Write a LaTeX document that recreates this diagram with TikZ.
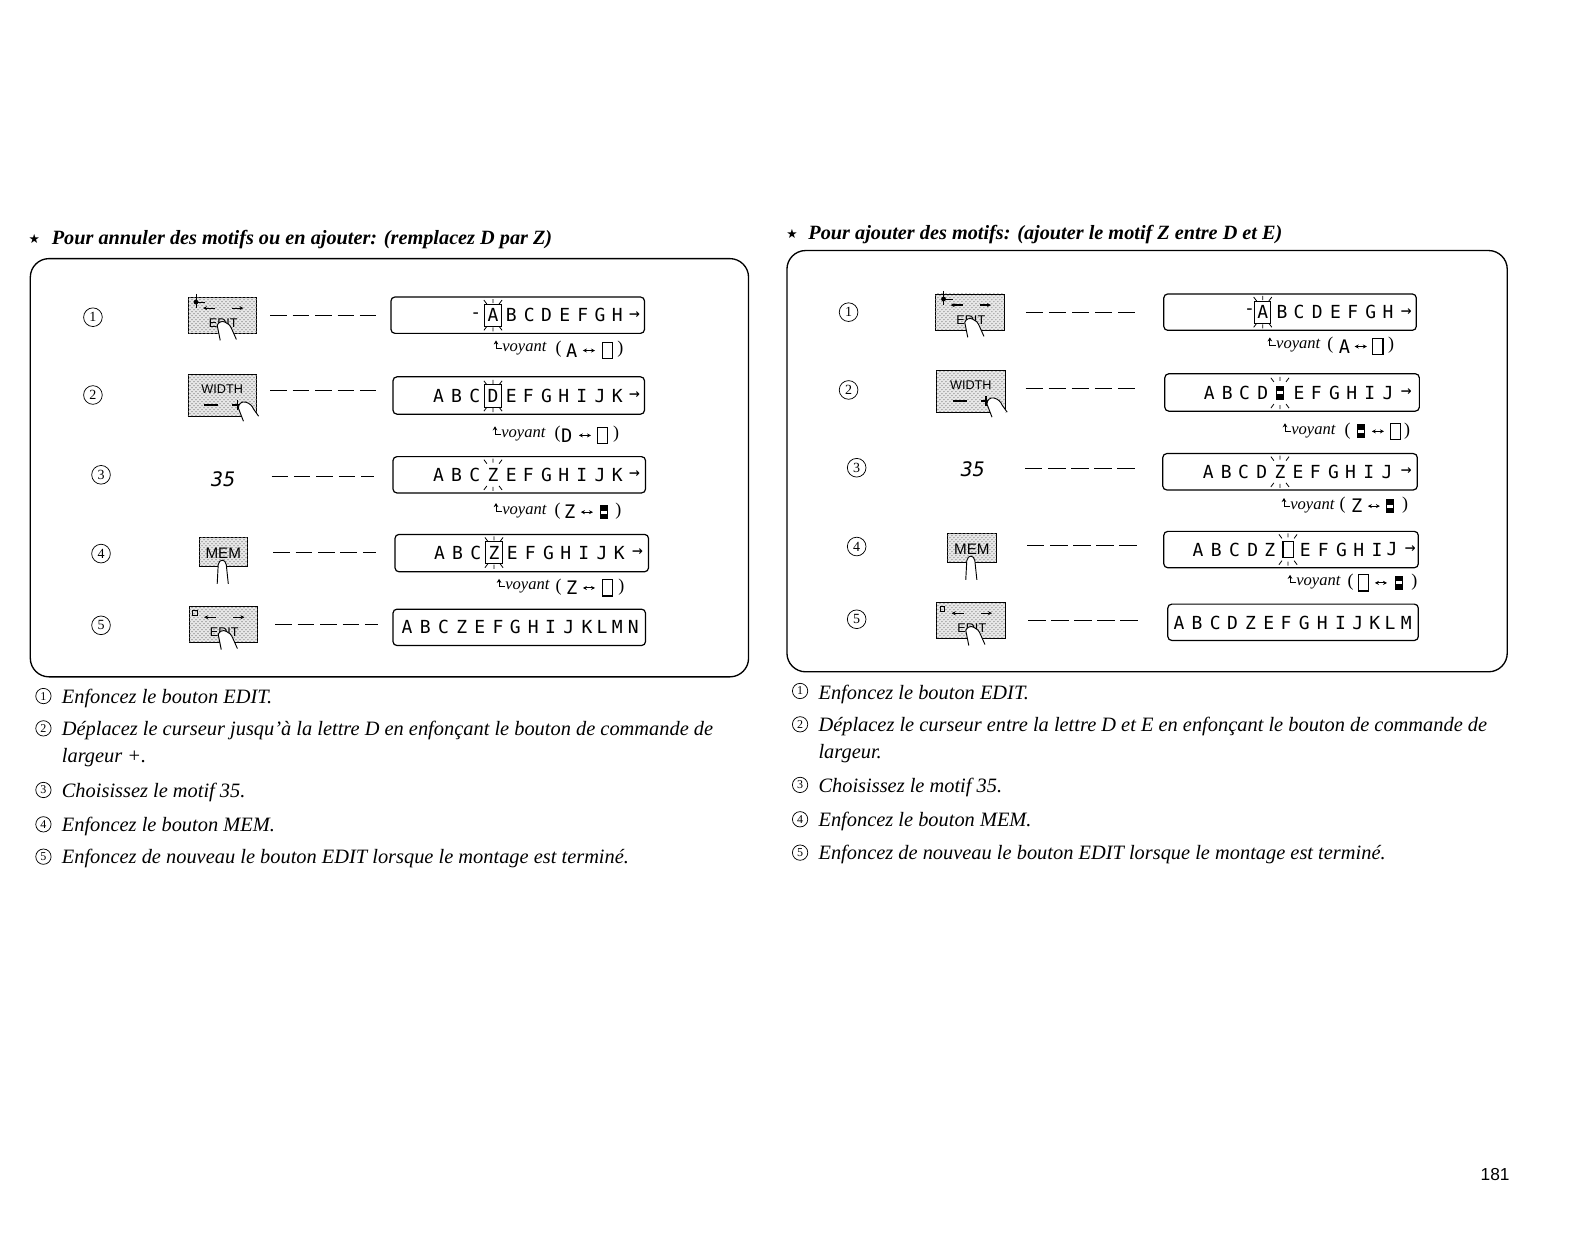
\documentclass[tikz,border=0pt]{standalone}
\usepackage{fontspec}
\setmainfont{Liberation Serif}
\newfontfamily\djs{DejaVu Sans}
\newfontfamily\djm{DejaVu Sans Mono}
\newfontfamily\lsans{Liberation Sans}
\usetikzlibrary{fit,arrows.meta,patterns}
\newcount\nn
\newcommand\nid{\global\advance\nn by 1 }
\tikzset{
 panel/.style={draw,line width=1pt,rounded corners=14pt,inner sep=0pt},
 lcd/.style={draw,line width=.9pt,rounded corners=3pt,inner sep=0pt},
 btn/.style={draw,line width=.6pt,fill=gray!18,postaction={pattern=crosshatch dots,pattern color=black!48},inner sep=0pt},
 conn/.style={line width=.7pt,dash pattern=on 12.4pt off 4.4pt,shorten <=10pt,shorten >=11pt},
 connr/.style={line width=.7pt,dash pattern=on 13pt off 4.3pt},
 lcdtxt/.style={font=\djm\fontsize{13.5pt}{14pt}\selectfont,inner sep=0pt},
 num/.style={draw,circle,line width=.55pt,inner sep=0pt,minimum size=14pt,font=\fontsize{10.5pt}{11pt}\selectfont},
 numb/.style={draw,circle,line width=.55pt,inner sep=0pt,minimum size=11.5pt,font=\fontsize{9pt}{10pt}\selectfont},
 body/.style={font=\itshape\fontsize{15.3pt}{16pt}\selectfont,anchor=base west,inner sep=0pt},
 ttl/.style={font=\bfseries\itshape\fontsize{15.2pt}{16pt}\selectfont,anchor=base west,inner sep=0pt},
 vy/.style={font=\itshape\fontsize{12.4pt}{13pt}\selectfont,anchor=base west,inner sep=0pt},
 cp/.style={font=\fontsize{13.5pt}{14pt}\selectfont,inner sep=0pt},
 cg/.style={font=\djm\fontsize{14pt}{15pt}\selectfont,inner sep=0pt},
 btxt/.style={font=\lsans\fontsize{9.5pt}{10pt}\selectfont,inner sep=0pt,text=black},
 mtxt/.style={font=\lsans\fontsize{11.4pt}{12pt}\selectfont,inner sep=0pt,text=black},
 fing/.style={draw,fill=white,line width=.7pt},
 ray/.style={line width=.6pt},
 btnarrow/.style={line width=.9pt,-{Stealth[length=3pt,width=3pt]}}
}
\newcommand\lets[2]{\foreach \px/\c in {#2}{\nid\node[lcdtxt] (n\the\nn) at (\px,#1) {\c};}}
\newcommand\rays[2]{\draw[ray] (#1,#2-16)--(#1,#2-12) (#1,#2+12)--(#1,#2+16)
 (#1-9,#2-15)--(#1-6,#2-11) (#1+9,#2-15)--(#1+6,#2-11)
 (#1-9,#2+15)--(#1-6,#2+11) (#1+9,#2+15)--(#1+6,#2+11);}
\newcommand\boxc[2]{\draw[line width=.8pt] (#1-8,#2-11) rectangle (#1+8,#2+11);}
\newcommand\voy[2]{\draw[line width=.7pt,-{Stealth[length=3pt,width=3.5pt]}] (#1+8,#2-1)--(#1+2,#2-1)--(#1+2,#2-9);
 \nid\node[vy] (n\the\nn) at (#1+8,#2+2) {voyant};}
\newcommand\cgl[3]{\nid\node[cp] (n\the\nn) at (#1,#2) {#3};}
\newcommand\cch[3]{\nid\node[cg] (n\the\nn) at (#1,#2) {#3};}
\newcommand\bk[2]{\draw[line width=.8pt] (#1-5,#2-8) rectangle (#1+5,#2+8);}
\newcommand\fk[2]{\fill (#1-4,#2-7) rectangle (#1+4,#2+7); \fill[white] (#1-3,#2-1.5) rectangle (#1+3,#2+1.5);}
\newcommand\dbl[2]{\draw[line width=.7pt,{Stealth[length=3pt,width=3pt]}-{Stealth[length=3pt,width=3pt]}] (#1-6,#2)--(#1+6,#2);}
\newcommand\editb[3]{\node[btn,fit={(#2,#3) (#2+68,#3+36)}] (#1) {};
 \draw[btnarrow] (#2+27,#3+11)--(#2+15,#3+11);
 \draw[btnarrow] (#2+44,#3+11)--(#2+55,#3+11);
 \nid\node[btxt] (n\the\nn) at (#2+35,#3+26) {EDIT};
 \begin{scope}[shift={(#2,#3)}]
 \draw[fing] (32,43)--(29,28)..controls (30,25) and (34,23) ..(37,25)..controls (40,26) and (42,28)..(44,33)--(48,42);
 \end{scope}}
\newcommand\editdot[2]{\fill (#1+8,#2+5) circle (1.8pt);
 \draw[line width=.7pt] (#1+8,#2-3)--(#1+8,#2+11) (#1+8,#2+5)--(#1+17,#2+5);}
\newcommand\editsq[2]{\draw[line width=.7pt] (#1+4,#2+4) rectangle (#1+8,#2+9);}
\newcommand\widthb[3]{\node[btn,fit={(#2,#3) (#2+68,#3+41)}] (#1) {};
 \nid\node[btxt] (n\the\nn) at (#2+34,#3+14) {WIDTH};
 \draw[line width=.9pt] (#2+16,#3+30)--(#2+30,#3+30) (#2+44,#3+30)--(#2+54,#3+30) (#2+49,#3+25)--(#2+49,#3+35);
 \begin{scope}[shift={(#2,#3)}]
 \draw[fing] (55,46)--(50,33)..controls (50,29) and (53,26)..(57,27)..controls (61,28) and (64,31)..(65,34)--(70,41);
 \end{scope}}
\newcommand\memb[3]{\node[btn,fit={(#2,#3) (#2+48,#3+29)}] (#1) {};
 \nid\node[mtxt] (n\the\nn) at (#2+24,#3+16) {MEM};
 \begin{scope}[shift={(#2,#3)}]
 \draw[fing] (18,46)--(19,27)..controls (20,21) and (26,21)..(27,27)--(29,46);
 \end{scope}}
\begin{document}
\begin{tikzpicture}[x=0.7577pt,y=-0.7577pt]
\useasboundingbox (0,0) rectangle (1568,1231);
\fill[white] (0,0) rectangle (1568,1231);
% ---------- left
\nid\node[font=\djs\fontsize{9.5pt}{10pt}\selectfont,inner sep=0pt] (n\the\nn) at (34,237) {★};
\node[ttl] (tl) at (51,242) {Pour annuler des motifs ou en ajouter: (remplacez D par Z)};
\node[panel,fit={(30,256) (741,670)}] (pl) {};
\node[num] (a1) at (92,314) {1};
\node[num] (a2) at (92,391) {2};
\node[num] (a3) at (100,470) {3};
\node[num] (a4) at (100,548) {4};
\node[num] (a5) at (100,619) {5};
\editb{ab1}{186}{294}\editdot{186}{294}
\widthb{ab2}{186}{371}
\node[btxt,font=\djm\itshape\fontsize{15pt}{16pt}\selectfont,inner sep=0pt] (ab3) at (221,474) {35};
\memb{ab4}{197}{532}
\editb{ab5}{187}{600}\editsq{187}{600}
\node[lcd,fit={(387,294) (638,330)}] (al1) {};
\node[lcd,fit={(389,373) (638,410)}] (al2) {};
\node[lcd,fit={(389,452) (639,488)}] (al3) {};
\node[lcd,fit={(391,529) (642,566)}] (al4) {};
\node[lcd,fit={(389,603) (639,639)}] (al5) {};
\draw[conn] (ab1.east|-0,312) -- (al1.west|-0,312);
\draw[conn] (ab2.east|-0,387) -- (al2.west|-0,387);
\draw[conn,shorten <=27pt,shorten >=14pt] (ab3.east|-0,472) -- (al3.west|-0,472);
\draw[conn,shorten <=19pt,shorten >=14pt] (ab4.east|-0,547) -- (al4.west|-0,547);
\draw[conn,shorten <=13pt] (ab5.east|-0,618) -- (al5.west|-0,618);
\lets{312}{471/-,488/A,506/B,524/C,541/D,559/E,577/F,594/G,611/H,628/→}
\rays{488}{312}\boxc{488}{312}
\lets{392}{434/A,452/B,470/C,488/D,506/E,523/F,541/G,558/H,576/I,594/J,611/K,628/→}
\rays{488}{392}\boxc{488}{392}
\lets{470}{434/A,452/B,470/C,488/Z,506/E,523/F,541/G,558/H,576/I,594/J,611/K,628/→}
\rays{488}{470}
\lets{547}{435/A,453/B,471/C,489/Z,507/E,525/F,543/G,560/H,578/I,596/J,613/K,631/→}
\rays{489}{547}\boxc{489}{547}
\lets{621}{403/A,421/B,439/C,457/Z,475/E,493/F,510/G,528/H,545/I,563/J,581/K,596/L,611/M,627/N}
\voy{489}{346}\cgl{553}{346}{(}\cch{566}{347}{A}\dbl{583}{347}\bk{601}{347}\cgl{614}{346}{)}
\voy{488}{431}\cgl{552}{430}{(}\cch{561}{431}{D}\dbl{579}{431}\bk{596}{431}\cgl{610}{430}{)}
\voy{489}{507}\cgl{552}{506}{(}\cch{564}{507}{Z}\dbl{581}{507}\fk{598}{507}\cgl{612}{506}{)}
\voy{492}{582}\cgl{553}{581}{(}\cch{566}{582}{Z}\dbl{583}{582}\bk{601}{582}\cgl{615}{581}{)}
\node[numb] (at1) at (43,689) {1};
\node[numb] (at2) at (43,721) {2};
\node[numb] (at3) at (43,782) {3};
\node[numb] (at4) at (43,816) {4};
\node[numb] (at5) at (43,848) {5};
\node[body] (ax1) at (61,696) {Enfoncez le bouton EDIT.};
\node[body] (ax2) at (61,728) {Déplacez le curseur jusqu'à la lettre D en enfonçant le bouton de commande de};
\node[body] (ax2b) at (61,755) {largeur +.};
\node[body] (ax3) at (61,789) {Choisissez le motif 35.};
\node[body] (ax4) at (61,823) {Enfoncez le bouton MEM.};
\node[body] (ax5) at (61,855) {Enfoncez de nouveau le bouton EDIT lorsque le montage est terminé.};
% ---------- right
\nid\node[font=\djs\fontsize{9.5pt}{10pt}\selectfont,inner sep=0pt] (n\the\nn) at (784,232) {★};
\node[ttl] (tr) at (800,237) {Pour ajouter des motifs: (ajouter le motif Z entre D et E)};
\node[panel,fit={(779,248) (1492,665)}] (pr) {};
\node[num] (b1) at (840,309) {1};
\node[num] (b2) at (840,386) {2};
\node[num] (b3) at (848,463) {3};
\node[num] (b4) at (848,541) {4};
\node[num] (b5) at (848,613) {5};
\editb{bb1}{926}{291}\editdot{926}{291}
\widthb{bb2}{927}{367}
\node[btxt,font=\djm\itshape\fontsize{15pt}{16pt}\selectfont,inner sep=0pt] (bb3) at (963,464) {35};
\memb{bb4}{938}{528}
\editb{bb5}{927}{596}\editsq{927}{596}
\node[lcd,fit={(1152,291) (1402,327)}] (bl1) {};
\node[lcd,fit={(1153,370) (1405,407)}] (bl2) {};
\node[lcd,fit={(1151,449) (1403,485)}] (bl3) {};
\node[lcd,fit={(1152,526) (1404,562)}] (bl4) {};
\node[lcd,fit={(1156,598) (1404,634)}] (bl5) {};
\draw[connr,shorten <=16pt,shorten >=20pt] (bb1.east|-0,309) -- (bl1.west|-0,309);
\draw[connr,shorten <=15pt,shorten >=21pt] (bb2.east|-0,385) -- (bl2.west|-0,385);
\draw[connr,shorten <=30pt,shorten >=20pt] (bb3.east|-0,464) -- (bl3.west|-0,464);
\draw[connr,shorten <=23pt,shorten >=20pt] (bb4.east|-0,540) -- (bl4.west|-0,540);
\draw[connr,shorten <=17pt,shorten >=21pt] (bb5.east|-0,614) -- (bl5.west|-0,614);
\lets{309}{1237/-,1250/A,1269/B,1286/C,1304/D,1322/E,1339/F,1357/G,1374/H,1392/→}
\rays{1250}{309}\boxc{1250}{309}
\lets{389}{1197/A,1215/B,1232/C,1250/D,1286/E,1303/F,1321/G,1338/H,1356/I,1374/J,1392/→}
\rays{1267}{389}\fk{1267}{389}
\lets{467}{1196/A,1214/B,1231/C,1249/D,1267/Z,1285/E,1302/F,1320/G,1337/H,1355/I,1373/J,1392/→}
\rays{1267}{467}
\lets{544}{1186/A,1204/B,1222/C,1240/D,1257/Z,1292/E,1310/F,1328/G,1345/H,1363/I,1378/J,1396/→}
\rays{1275}{544}\bk{1275}{544}
\lets{617}{1167/A,1185/B,1203/C,1220/D,1238/Z,1256/E,1273/F,1291/G,1309/H,1327/I,1344/J,1361/K,1376/L,1392/M}
\voy{1255}{343}\cgl{1317}{342}{(}\cch{1331}{343}{A}\dbl{1347}{343}\bk{1364}{343}\cgl{1377}{342}{)}
\voy{1270}{428}\cgl{1334}{427}{(}\fk{1347}{427}\dbl{1364}{427}\bk{1381}{427}\cgl{1393}{427}{)}
\voy{1269}{502}\cgl{1329}{500}{(}\cch{1343}{501}{Z}\dbl{1360}{501}\fk{1376}{501}\cgl{1391}{500}{)}
\voy{1275}{578}\cgl{1337}{576}{(}\bk{1350}{577}\dbl{1367}{577}\fk{1385}{577}\cgl{1400}{576}{)}
\node[numb] (bt1) at (792,684) {1};
\node[numb] (bt2) at (792,717) {2};
\node[numb] (bt3) at (792,777) {3};
\node[numb] (bt4) at (792,811) {4};
\node[numb] (bt5) at (792,844) {5};
\node[body] (bx1) at (810,692) {Enfoncez le bouton EDIT.};
\node[body] (bx2) at (810,724) {Déplacez le curseur entre la lettre D et E en enfonçant le bouton de commande de};
\node[body] (bx2b) at (810,751) {largeur.};
\node[body] (bx3) at (810,784) {Choisissez le motif 35.};
\node[body] (bx4) at (810,818) {Enfoncez le bouton MEM.};
\node[body] (bx5) at (810,851) {Enfoncez de nouveau le bouton EDIT lorsque le montage est terminé.};
\node[font=\lsans\fontsize{13pt}{14pt}\selectfont,inner sep=0pt] (pg) at (1480,1163) {181};
\end{tikzpicture}
\end{document}
